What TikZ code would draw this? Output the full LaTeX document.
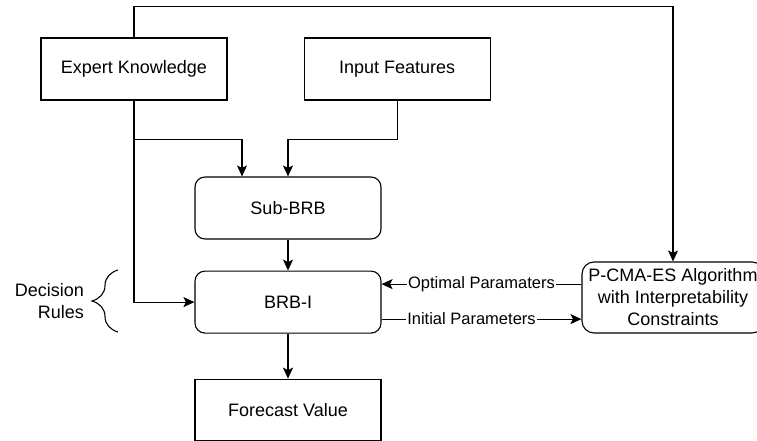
\documentclass[tikz,border=0pt]{standalone}
\usepackage{fontspec}
\setmainfont{Liberation Sans}
\usetikzlibrary{positioning}
\usetikzlibrary{arrows.meta}
\usetikzlibrary{decorations.pathreplacing}
\tikzset{%
  arr/.style = {-{Stealth[length=11pt,width=10pt,inset=2.5pt]},line width=1.2pt},
  sq/.style = {rectangle,draw,line width=1.1pt,minimum width=186pt,
        minimum height=62pt,inner sep=0pt},
  rnd/.style = {sq,rounded corners=10pt},
  lbl/.style = {fill=white,inner sep=1pt,font=\fontsize{16.5}{19}\selectfont}
}

\begin{document}
\begin{tikzpicture}[x=1pt,y=-1pt,font=\fontsize{18}{22}\selectfont]
   \useasboundingbox (0,0) rectangle (757,441);
   \node[sq] (expert) at (134,69) {Expert Knowledge};
   \node[sq] (input) [right=76pt of expert] {Input Features};
   \node[rnd] (subbrb) at (288,208) {Sub-BRB};
   \node[rnd] (brbi) [below=31pt of subbrb] {BRB-I};
   \node[sq,minimum height=61pt] (forecast) [below=45pt of brbi] {Forecast Value};
   \node[rnd,minimum width=182pt,minimum height=71pt,align=center,rounded corners=12pt]
      (pcma) at (673,297.5) {P-CMA-ES Algorithm\\with Interpretability\\Constraints};
   \node[align=right,inner sep=0pt,anchor=east] (rules) at (84,301) {Decision\\Rules};

   % brace next to the rules text
   \draw[line width=1.1pt,decorate,decoration={brace,amplitude=26pt}]
      (118,332) -- (118,270);

   \draw[arr] (expert.south) -- ++(0,39) -| ([xshift=-46pt]subbrb.north);
   \draw[arr] (input.south) -- ++(0,39) -| (subbrb.north);
   \draw[arr] (expert.south) |- (brbi.west);
   \draw[arr] (subbrb) -- (brbi);
   \draw[arr] (brbi) -- (forecast);
   \draw[arr] (expert.north) -- ++(0,-31) -| (pcma.north);

   \coordinate (opt) at ([yshift=18pt]brbi.east);
   \coordinate (ini) at ([yshift=-17pt]brbi.east);
   \draw[arr] (opt -| pcma.west) -- node[lbl] {Optimal Paramaters} (opt);
   \draw[arr] (ini) -- node[lbl,pos=0.45] {Initial Parameters} (ini -| pcma.west);
\end{tikzpicture}
\end{document}
